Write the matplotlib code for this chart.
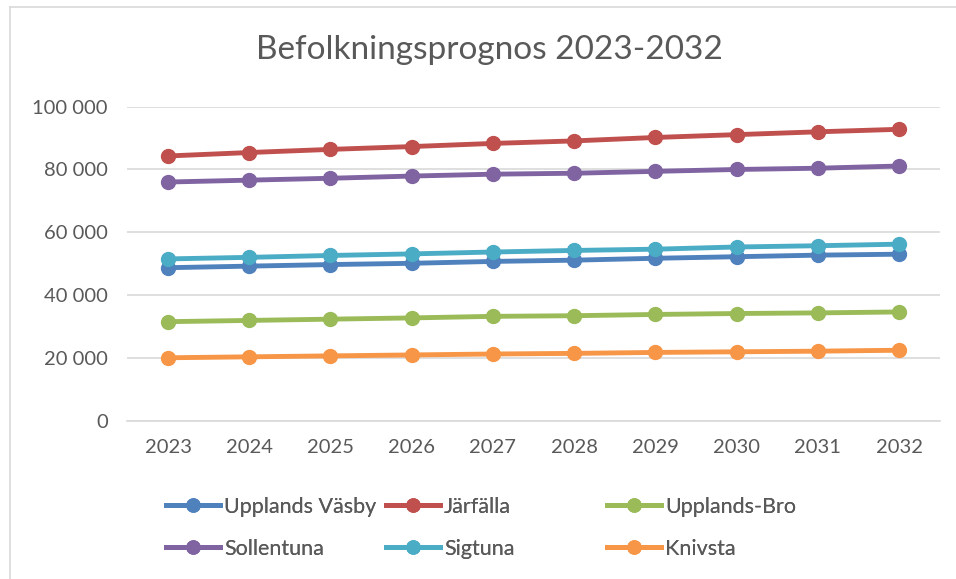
import matplotlib.pyplot as plt
from matplotlib.lines import Line2D

plt.rcParams['font.family'] = ['Lato', 'DejaVu Sans']

years = ['2023', '2024', '2025', '2026', '2027', '2028', '2029', '2030', '2031', '2032']

upplands_vasby = [48700, 49200, 49700, 50100, 50700, 51100, 51700, 52200, 52700, 53000]
jarfalla = [84300, 85400, 86400, 87300, 88300, 89100, 90200, 91100, 92000, 92800]
upplands_bro = [31500, 31900, 32300, 32700, 33200, 33400, 33800, 34100, 34300, 34600]
sollentuna = [76000, 76600, 77200, 77900, 78500, 78800, 79400, 80000, 80400, 81100]
sigtuna = [51500, 52000, 52600, 53100, 53700, 54200, 54600, 55300, 55700, 56200]
knivsta = [20000, 20300, 20600, 20900, 21200, 21400, 21700, 21900, 22100, 22400]

series = [
    ('Upplands Väsby', upplands_vasby, '#4F81BD'),
    ('Järfälla', jarfalla, '#C0504D'),
    ('Upplands-Bro', upplands_bro, '#9BBB59'),
    ('Sollentuna', sollentuna, '#8064A2'),
    ('Sigtuna', sigtuna, '#4BACC6'),
    ('Knivsta', knivsta, '#F79646'),
]

fig = plt.figure(figsize=(9.56, 5.79), dpi=100)
ax = fig.add_axes([0.1333, 0.2737, 0.8496, 0.542])

x = list(range(len(years)))
for name, values, color in series:
    ax.plot(x, values, color=color, linewidth=3.5, marker='o', markersize=10,
            label=name, solid_capstyle='round', zorder=3)

ax.set_xlim(-0.5, len(years) - 0.5)
ax.set_ylim(0, 100000)
ax.set_yticks(range(0, 100001, 20000))
ax.set_yticklabels(['0' if v == 0 else f'{v // 1000} 000' for v in range(0, 100001, 20000)])
ax.set_xticks(x)
ax.set_xticklabels(years)
ax.tick_params(axis='both', length=0, labelsize=14.5, colors='#595959')
ax.tick_params(axis='x', pad=13)
ax.tick_params(axis='y', pad=14)
ax.grid(axis='y', color='#D9D9D9', linewidth=1.2, zorder=0)
for side in ['top', 'right', 'left']:
    ax.spines[side].set_visible(False)
ax.spines['bottom'].set_color('#D9D9D9')
ax.spines['bottom'].set_linewidth(1.2)

fig.text(0.512, 0.913, 'Befolkningsprognos 2023-2032', ha='center', va='center',
         fontsize=24, color='#595959')

# legend: three columns placed one by one, like excel does
handles = [Line2D([0], [0], color=c, linewidth=3.5, marker='o', markersize=9.5) for _, _, c in series]
labels = [n for n, _, _ in series]
col_x = [166, 386, 607]
for col in range(3):
    idx = [col, col + 3]
    leg = fig.legend([handles[i] for i in idx], [labels[i] for i in idx],
                     loc='upper left', bbox_to_anchor=(col_x[col] / 956, 1 - 497 / 579),
                     frameon=False, fontsize=15.5, handlelength=2.5, handletextpad=0.2,
                     labelspacing=1.0, borderpad=0, borderaxespad=0, labelcolor='#595959')
    fig.add_artist(leg)

# chart border (left and top edges show in the crop)
fig.add_artist(Line2D([10 / 956, 10 / 956], [0, 1 - 7 / 579], transform=fig.transFigure,
                      color='#D9D9D9', linewidth=1.2))
fig.add_artist(Line2D([10 / 956, 1], [1 - 7 / 579, 1 - 7 / 579], transform=fig.transFigure,
                      color='#D9D9D9', linewidth=1.2))

fig.savefig('out.png', dpi=100)
